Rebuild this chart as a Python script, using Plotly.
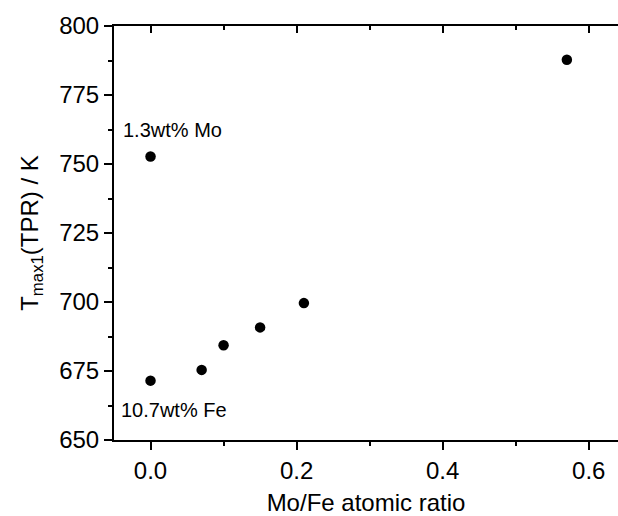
import plotly.graph_objects as go

mo_fe_ratio = [0.0, 0.0, 0.07, 0.10, 0.15, 0.21, 0.57]
t_max1 = [752.7, 671.5, 675.4, 684.3, 690.8, 699.6, 787.8]

x_ticks = [0.0, 0.2, 0.4, 0.6]
x_labels = ["0.0", "0.2", "0.4", "0.6"]
y_ticks = [650, 675, 700, 725, 750, 775, 800]

font_family = "Liberation Sans, Arial, sans-serif"

fig = go.Figure()
fig.add_trace(go.Scatter(
    x=mo_fe_ratio, y=t_max1, mode="markers",
    marker=dict(color="black", size=10.5, line=dict(width=0)),
    showlegend=False, hoverinfo="x+y",
))
fig.add_trace(go.Scatter(x=[0.3], y=[700], xaxis="x2", mode="markers",
                         marker=dict(opacity=0), showlegend=False, hoverinfo="skip"))

fig.update_layout(
    width=618, height=516,
    margin=dict(l=114, r=0, t=26, b=76, autoexpand=False),
    paper_bgcolor="white", plot_bgcolor="white",
    font=dict(family=font_family, color="black"),
    xaxis=dict(
        range=[-0.05, 0.64], tickvals=x_ticks, ticktext=x_labels,
        ticks="outside", ticklen=8, tickwidth=2, tickcolor="black",
        showline=True, linewidth=2, linecolor="black",
        showgrid=False, zeroline=False,
        tickfont=dict(size=24, family=font_family),
        minor=dict(dtick=0.1, tick0=0, ticks="outside", ticklen=4, tickwidth=2, tickcolor="black"),
        title=dict(text="Mo/Fe atomic ratio", font=dict(size=24, family=font_family), standoff=14),
    ),
    xaxis2=dict(
        range=[-0.05, 0.64], overlaying="x", side="top", matches="x",
        tickvals=x_ticks, showticklabels=False,
        ticks="inside", ticklen=7, tickwidth=2, tickcolor="black",
        showline=True, linewidth=2, linecolor="black",
        showgrid=False, zeroline=False,
        minor=dict(dtick=0.1, tick0=0, ticks="inside", ticklen=4, tickwidth=2, tickcolor="black"),
    ),
    yaxis=dict(
        range=[650, 800], tickvals=y_ticks,
        ticks="outside", ticklen=8, tickwidth=2, tickcolor="black",
        showline=True, linewidth=2, linecolor="black",
        showgrid=False, zeroline=False,
        tickfont=dict(size=24, family=font_family),
        minor=dict(dtick=12.5, tick0=650, ticks="outside", ticklen=4, tickwidth=2, tickcolor="black"),
        title=dict(text="T<sub>max1</sub>(TPR) / K", font=dict(size=24, family=font_family), standoff=14),
    ),
    annotations=[
        dict(x=-0.041, y=762.5, xref="x", yref="y", text="1.3wt% Mo", showarrow=False,
             xanchor="left", yanchor="middle", font=dict(size=20, family=font_family)),
        dict(x=-0.043, y=661, xref="x", yref="y", text="10.7wt% Fe", showarrow=False,
             xanchor="left", yanchor="middle", font=dict(size=20, family=font_family)),
    ],
)

fig.write_html("out.html", config={"displayModeBar": False},
               post_script="document.body.style.margin='0';")
